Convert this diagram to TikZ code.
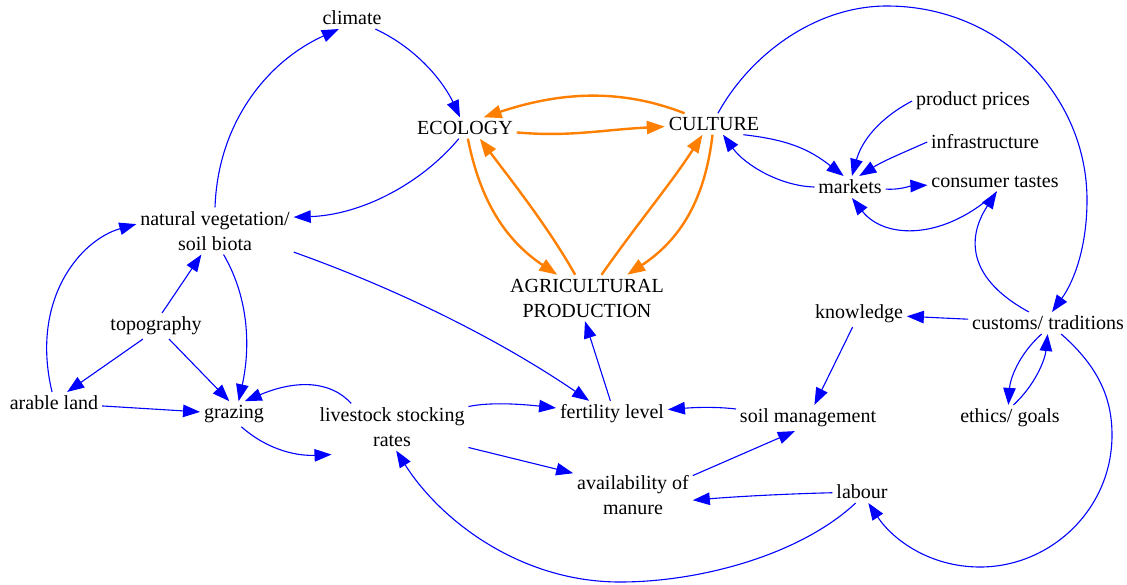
\documentclass[tikz,border=0pt]{standalone}
\usepackage{fontspec}
\setmainfont{Liberation Serif}
\usetikzlibrary{arrows.meta}
\definecolor{bl}{RGB}{0,0,255}
\definecolor{orng}{RGB}{255,127,0}
\begin{document}
\begin{tikzpicture}[x=1pt,y=-1pt,
  nd/.style={font=\fontsize{20}{25}\selectfont, inner sep=4pt, outer sep=0pt, align=center, text=black},
  be/.style={draw=bl, line width=1.1pt, -{Triangle[length=17pt,width=12.5pt]}},
  oe/.style={draw=orng, line width=2.4pt, -{Triangle[length=18pt,width=13pt]}}]
\useasboundingbox (0,0) rectangle (1127,584);
% nodes
\node[nd] (climate) at (352,18) {climate};
\node[nd] (eco) at (465,128) {ECOLOGY};
\node[nd] (cul) at (714,124) {CULTURE};
\node[nd] (pp) at (973,101) {product prices};
\node[nd] (inf) at (985,142) {infrastructure};
\node[nd] (mkt) at (850,187) {markets};
\node[nd] (ct) at (995,182) {consumer tastes};
\node[nd] (nv) at (215,231) {natural vegetation/\\soil biota};
\node[nd] (agr) at (587,298) {AGRICULTURAL\\PRODUCTION};
\node[nd] (know) at (859,314) {knowledge};
\node[nd] (cus) at (1048,323) {customs/ traditions};
\node[nd] (topo) at (156,326) {topography};
\node[nd] (ar) at (54,403) {arable land};
\node[nd] (gr) at (234,414) {grazing};
\node[nd] (ls) at (392,427) {livestock stocking\\rates};
\node[nd] (fert) at (612,414) {fertility level};
\node[nd] (soil) at (808,418) {soil management};
\node[nd] (eth) at (1010,418) {ethics/ goals};
\node[nd] (man) at (633,495) {availability of\\manure};
\node[nd] (lab) at (862,492) {labour};
% orange core
\draw[oe] (eco) .. controls (570,137) and (600,130) .. (cul);
\draw[oe] (cul.160) .. controls (620,88) and (560,92) .. (eco.30);
\draw[oe] (eco.-75) .. controls (480,200) and (505,240) .. (agr.142);
\draw[oe] (agr.117) .. controls (550,230) and (515,185) .. (eco.-36);
\draw[oe] (agr.58) .. controls (640,220) and (670,185) .. (cul.-137);
\draw[oe] (cul.-98) .. controls (705,200) and (680,240) .. (agr.30);
% blue edges
\draw[be] (climate) .. controls (420,50) and (445,85) .. (eco.115);
\draw[be] (nv.north) .. controls (218,120) and (270,60) .. (climate.220);
\draw[be] (eco.-120) .. controls (420,185) and (360,215) .. (nv.10);
\draw[be] (cul.-20) .. controls (790,140) and (810,150) .. (mkt.120);
\draw[be] (mkt.west) .. controls (780,186) and (745,165) .. (cul.-50);
\draw[be] (cul.70) .. controls (750,55) and (815,6) .. (887,6) .. controls (1000,6) and (1087,95) .. (1087,200) .. controls (1087,245) and (1075,280) .. (cus.70);
\draw[be] (pp.west) .. controls (880,118) and (862,140) .. (mkt.80);
\draw[be] (inf.west) .. controls (905,152) and (885,160) .. (mkt.50);
\draw[be] (mkt) .. controls (900,190) and (910,186) .. (ct);
\draw[be] (ct.-80) .. controls (945,240) and (885,240) .. (mkt.-80);
\draw[be] (cus.150) .. controls (970,280) and (965,240) .. (ct.-80);
\draw[be] (cus) -- (know);
\draw[be] (know) -- (soil);
\draw[be] (cus.-120) .. controls (1018,355) and (1010,380) .. (eth.97);
\draw[be] (eth.75) .. controls (1035,385) and (1045,360) .. (cus.-92);
\draw[be] (cus.-40) .. controls (1100,368) and (1112,400) .. (1112,435) .. controls (1112,510) and (1050,567) .. (980,567) .. controls (930,567) and (893,540) .. (lab.-60);
\draw[be] (lab) .. controls (780,494) and (730,497) .. (man.-5);
\draw[be] (lab.-120) .. controls (800,555) and (700,582) .. (620,582) .. controls (520,582) and (440,520) .. (ls.-80);
\draw[be] (soil) .. controls (720,407) and (700,407) .. (fert);
\draw[be] (man.18) -- (soil.-135);
\draw[be] (ls.-15) -- (man.160);
\draw[be] (ls.15) .. controls (490,402) and (520,404) .. (fert);
\draw[be] (fert.97) -- (agr.-95);
\draw[be] (nv.-15) .. controls (400,290) and (500,340) .. (fert.150);
\draw[be] (nv.-70) .. controls (250,300) and (250,350) .. (gr.70);
\draw[be] (topo.65) -- (nv.-120);
\draw[be] (topo.-135) -- (ar.40);
\draw[be] (topo.-45) -- (gr.110);
\draw[be] (ar) -- (gr);
\draw[be] (ar.100) .. controls (30,300) and (80,240) .. (nv.175);
\draw[be] (ls.150) .. controls (330,380) and (295,380) .. (gr.50);
\draw[be] (gr.-60) .. controls (270,452) and (300,456) .. ([shift={(16,4)}]ls.south west);
\end{tikzpicture}
\end{document}
